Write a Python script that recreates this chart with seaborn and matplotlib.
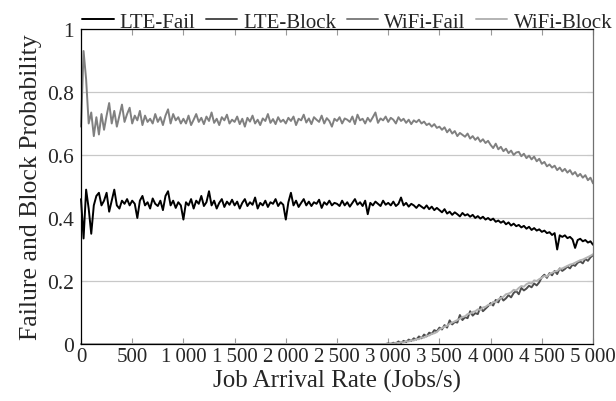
import numpy as np
import pandas as pd
import matplotlib
matplotlib.use('Agg')
import matplotlib.pyplot as plt
from matplotlib.ticker import FuncFormatter
import seaborn as sns

# Estilo base do seaborn, fonte tipo Times definida depois
sns.set_theme(style="white")
plt.rcParams['font.family'] = ['Liberation Serif', 'DejaVu Serif']

# Taxa de chegada (Jobs/s), passo de 25
taxa = np.arange(0, 5001, 25)

# Probabilidades (em milesimos), uma linha = 500 Jobs/s
wifi_fail = np.array([
    690, 930, 840, 700, 735, 660, 720, 665, 730, 680, 725, 765, 700, 740, 690, 725, 760, 705, 730, 750,
    700, 725, 710, 740, 695, 725, 705, 715, 700, 730, 705, 720, 695, 725, 745, 700, 730, 710, 720, 700,
    715, 700, 725, 695, 712, 730, 705, 718, 698, 722, 708, 735, 702, 715, 695, 720, 710, 728, 700, 712,
    705, 722, 698, 715, 690, 718, 706, 725, 700, 712, 695, 716, 708, 730, 702, 714, 698, 720, 705, 712,
    700, 718, 708, 722, 695, 715, 710, 728, 703, 716, 698, 720, 712, 705, 725, 700, 717, 708, 690, 715,
    708, 720, 700, 716, 712, 705, 722, 698, 728, 710, 715, 700, 718, 706, 720, 735, 702, 716, 710, 722,
    705, 718, 712, 700, 720, 708, 715, 702, 712, 698, 710, 704, 712, 700, 706, 695, 700, 690, 698, 686,
    690, 680, 688, 672, 682, 668, 676, 660, 670, 664, 658, 668, 652, 660, 648, 656, 642, 650, 638, 645,
    632, 622, 636, 618, 626, 612, 620, 606, 614, 600, 608, 610, 596, 604, 590, 598, 586, 595, 580, 588,
    572, 578, 564, 570, 560, 566, 552, 560, 548, 556, 544, 552, 538, 546, 532, 540, 528, 536, 520, 528,
    510]) / 1000

lte_fail = np.array([
    460, 335, 490, 430, 350, 440, 470, 480, 440, 455, 480, 420, 455, 490, 440, 430, 455, 445, 460, 440,
    455, 445, 400, 455, 470, 440, 450, 430, 462, 445, 438, 455, 425, 470, 485, 440, 455, 432, 450, 440,
    395, 450, 440, 460, 430, 455, 445, 470, 438, 450, 485, 440, 455, 430, 448, 460, 435, 452, 442, 458,
    440, 452, 430, 448, 460, 438, 450, 442, 465, 430, 448, 440, 455, 435, 450, 445, 460, 438, 450, 442,
    395, 450, 480, 440, 455, 435, 448, 460, 440, 452, 438, 450, 445, 458, 432, 450, 442, 455, 440, 448,
    445, 438, 455, 440, 450, 436, 448, 460, 442, 450, 438, 455, 412, 448, 440, 452, 445, 438, 455, 442,
    448, 440, 452, 438, 445, 465, 440, 448, 436, 445, 440, 432, 442, 436, 430, 440, 428, 436, 425, 432,
    425, 418, 428, 414, 420, 410, 418, 412, 405, 416, 408, 412, 404, 410, 400, 406, 398, 404, 395, 400,
    393, 398, 388, 392, 385, 390, 380, 386, 376, 382, 374, 378, 370, 375, 366, 372, 362, 368, 360, 364,
    356, 360, 352, 355, 346, 352, 300, 345, 340, 345, 336, 340, 332, 305, 330, 334, 326, 330, 322, 326,
    315]) / 1000

# Bloqueio: zero ate 2800, depois passo de 25
taxa_bloq = np.concatenate([[0], np.arange(2800, 5001, 25)])

lte_block = np.array([
    0,
    0, 0, 0, 0, 0, 0, 0, 0,
    2, 0, 4, 2, 8, 3, 10, 6, 14, 10, 18, 14, 24, 18, 30, 24, 36, 32, 44, 40,
    52, 46, 60, 52, 75, 62, 70, 68, 92, 76, 85, 82, 104, 90, 98, 95, 118, 104, 112, 120,
    130, 122, 140, 132, 150, 138, 145, 155, 148, 162, 168, 158, 178, 170, 176, 185, 180, 192, 186, 196,
    212, 220, 210, 225, 218, 232, 222, 240, 232, 238, 246, 240, 252, 248, 258, 262, 256, 270, 264, 275,
    282]) / 1000

wifi_block = np.array([
    0,
    0, 0, 0, 0, 0, 0, 0, 0,
    0, 2, 1, 4, 3, 6, 5, 9, 8, 12, 11, 16, 15, 21, 20, 26, 27, 32, 34, 38,
    46, 50, 55, 58, 64, 68, 72, 76, 80, 86, 88, 95, 96, 102, 104, 110, 108, 116, 118, 124,
    124, 134, 132, 142, 146, 150, 158, 160, 164, 172, 170, 178, 184, 182, 190, 194, 192, 202, 200, 206,
    210, 216, 214, 222, 226, 230, 232, 238, 240, 244, 248, 252, 254, 258, 262, 266, 268, 272, 276, 280,
    285]) / 1000

fig, ax = plt.subplots(figsize=(6.16, 4.02), dpi=100)
fig.subplots_adjust(left=0.1315, right=0.9627, bottom=0.1418, top=0.9254)

# ordem de desenho igual a do original
series = [
    (taxa, lte_fail, 'LTE-Fail', 'black'),
    (taxa_bloq, lte_block, 'LTE-Block', '#4d4d4d'),
    (taxa, wifi_fail, 'WiFi-Fail', '#808080'),
    (taxa_bloq, wifi_block, 'WiFi-Block', '#b3b3b3'),
]
for x, y, nome, cor in series:
    sns.lineplot(x=x, y=y, ax=ax, color=cor, lw=1.4, label=nome, clip_on=False)

ax.set_xlim(0, 5000)
ax.set_ylim(0, 1)
ax.set_xticks(range(0, 5001, 500))
ax.set_yticks([0, 0.2, 0.4, 0.6, 0.8, 1])
ax.xaxis.set_major_formatter(FuncFormatter(lambda v, p: f'{int(v):,}'.replace(',', '\u2009')))
ax.yaxis.set_major_formatter(FuncFormatter(lambda v, p: f'{v:g}'))

ax.yaxis.grid(True, color='#c8c8c8', lw=0.9)
ax.set_axisbelow(True)
ax.tick_params(axis='x', direction='in', top=True, bottom=True, length=4, width=0.8,
               color='#999999', labelsize=15, pad=2)
ax.tick_params(axis='y', direction='in', left=True, right=True, length=4, width=0.8,
               color='#c8c8c8', labelsize=15.5, pad=5)
for lado in ['left', 'top', 'bottom']:
    ax.spines[lado].set_color('black')
    ax.spines[lado].set_linewidth(0.9)
ax.spines['right'].set_color('#707070')
ax.spines['right'].set_linewidth(0.9)

ax.set_xlabel('Job Arrival Rate (Jobs/s)', fontsize=18, labelpad=2)
ax.set_ylabel('Failure and Block Probability', fontsize=18.5, labelpad=4)

ax.legend(loc='lower center', bbox_to_anchor=(0.52, 0.985), ncol=4, frameon=False,
          fontsize=15, handlelength=1.5, handletextpad=0.3, columnspacing=0.5,
          borderaxespad=0.0, borderpad=0.1)

fig.savefig('out.png', dpi=100)
